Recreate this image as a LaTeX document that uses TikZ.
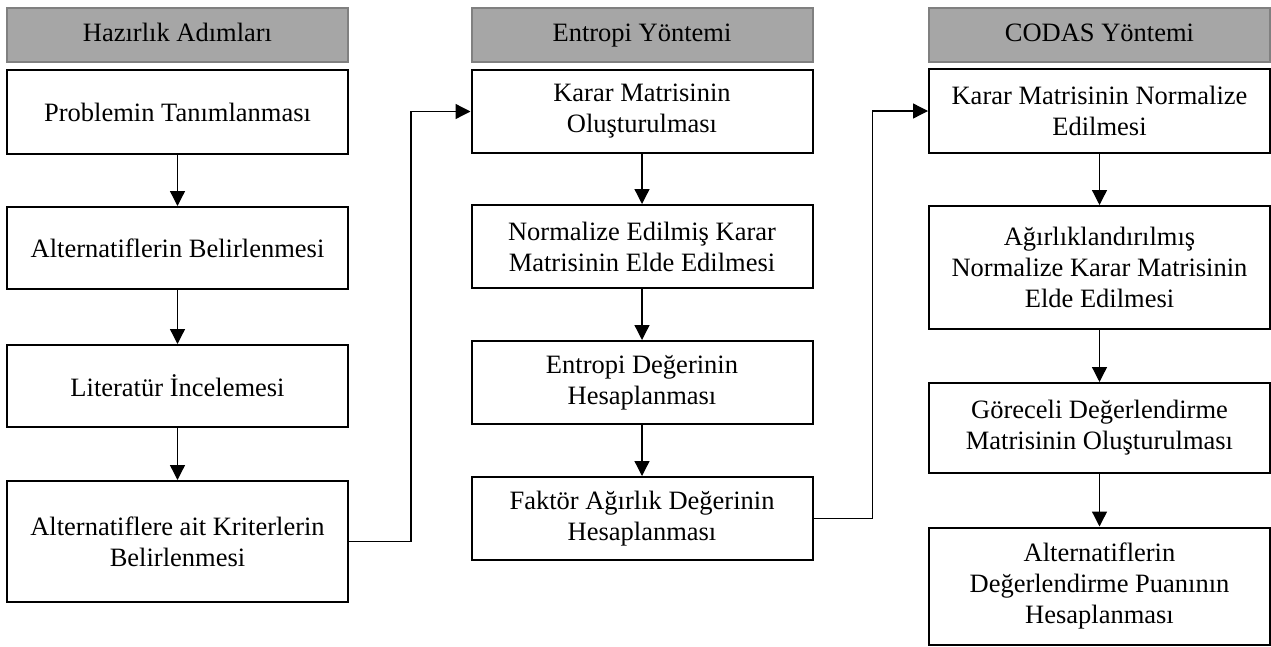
\documentclass[tikz,border=0pt]{standalone}
\usepackage{fontspec}
\setmainfont{Liberation Serif}
\usetikzlibrary{arrows.meta}
\definecolor{hdrfill}{RGB}{166,166,166}
\definecolor{hdrdraw}{RGB}{128,128,128}
\begin{document}
\begin{tikzpicture}[x=1pt,y=-1pt,
  stepbox/.style={draw=black,line width=2pt,fill=white,rectangle,minimum width=341pt,align=center,inner sep=0pt,font=\fontsize{26.5}{31}\selectfont},
  hdrbox/.style={draw=hdrdraw,line width=2pt,fill=hdrfill,rectangle,minimum width=341pt,minimum height=54pt,inner sep=0pt,text height=18pt,text depth=6pt,font=\fontsize{26.5}{31}\selectfont},
  conn/.style={line width=1.3pt,-{Triangle[width=15pt,length=15pt]}}]
\useasboundingbox (0,0) rectangle (1271,646);
% headers
\node[hdrbox] (h1) at (177.5,35) {Hazırlık Adımları};
\node[hdrbox] (h2) at (642,35) {Entropi Yöntemi};
\node[hdrbox] (h3) at (1099.5,35) {CODAS Yöntemi};
% column 1
\node[stepbox,minimum height=84pt] (a1) at (177.5,112) {Problemin Tanımlanması};
\node[stepbox,minimum height=82pt] (a2) at (177.5,248) {Alternatiflerin Belirlenmesi};
\node[stepbox,minimum height=82pt] (a3) at (177.5,386) {Literatür İncelemesi};
\node[stepbox,minimum height=121pt] (a4) at (177.5,541.5) {Alternatiflere ait Kriterlerin\\Belirlenmesi};
% column 2
\node[stepbox,minimum height=83pt] (b1) at (642,111.5) {Karar Matrisinin\\Oluşturulması};
\node[stepbox,minimum height=83pt] (b2) at (642,246.5) {Normalize Edilmiş Karar\\Matrisinin Elde Edilmesi};
\node[stepbox,minimum height=83pt] (b3) at (642,382.5) {Entropi Değerinin\\Hesaplanması};
\node[stepbox,minimum height=83pt] (b4) at (642,518.5) {Faktör Ağırlık Değerinin\\Hesaplanması};
% column 3
\node[stepbox,minimum height=84pt] (c1) at (1099.5,111) {Karar Matrisinin Normalize\\Edilmesi};
\node[stepbox,minimum height=123pt] (c2) at (1099.5,267.5) {Ağırlıklandırılmış\\Normalize Karar Matrisinin\\Elde Edilmesi};
\node[stepbox,minimum height=90pt] (c3) at (1099.5,428) {Göreceli Değerlendirme\\Matrisinin Oluşturulması};
\node[stepbox,minimum height=117pt] (c4) at (1099.5,586) {Alternatiflerin\\Değerlendirme Puanının\\Hesaplanması};
% arrows
\draw[conn] (a1) -- (a2);
\draw[conn] (a2) -- (a3);
\draw[conn] (a3) -- (a4);
\draw[conn] (b1) -- (b2);
\draw[conn] (b2) -- (b3);
\draw[conn] (b3) -- (b4);
\draw[conn] (c1) -- (c2);
\draw[conn] (c2) -- (c3);
\draw[conn] (c3) -- (c4);
\draw[conn] (a4.east) -- ++(62,0) |- (b1.west);
\draw[conn] (b4.east) -- ++(59,0) |- (c1.west);
\end{tikzpicture}
\end{document}
